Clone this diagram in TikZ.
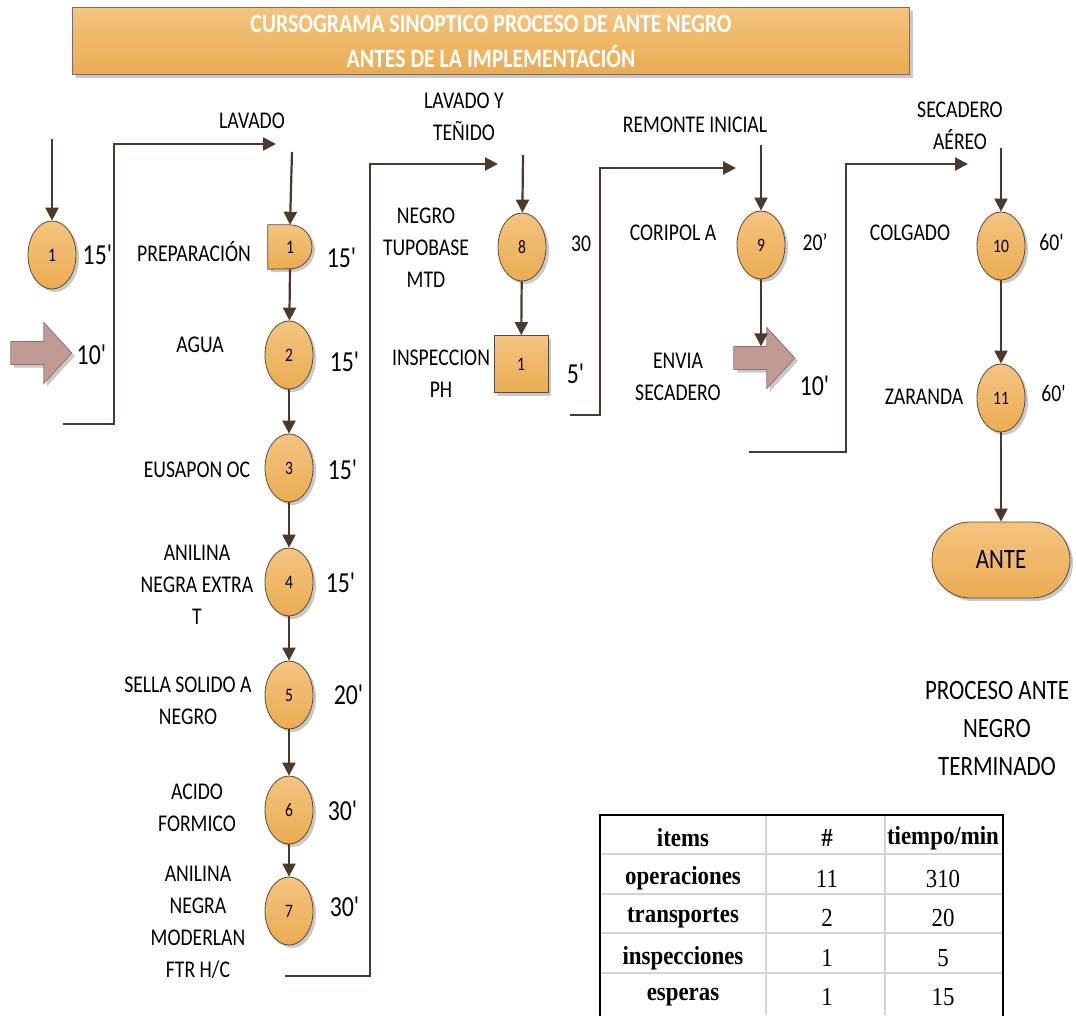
\documentclass[tikz,border=0pt]{standalone}
\usepackage{fontspec}
\setmainfont{Carlito}[FakeStretch=0.82]
\newfontfamily\tabfont{Liberation Serif}[FakeStretch=0.88]
\usepackage{tikz}
\usetikzlibrary{arrows.meta,shapes.geometric,shapes.misc,shadows}

\definecolor{linea}{RGB}{75,58,44}
\definecolor{borde}{RGB}{90,74,58}
\definecolor{naranjaA}{RGB}{244,196,128}
\definecolor{naranjaB}{RGB}{235,172,82}
\definecolor{rosa}{RGB}{193,155,147}
\definecolor{rosaborde}{RGB}{140,116,112}
\definecolor{rejilla}{RGB}{212,212,212}

\newcommand{\ap}{\textquotesingle}
% flecha de transporte, dibujada desde el borde izquierdo del nodo
\newcommand{\flecha}[1]{%
  \filldraw[transp] (#1.west) ++(0,-11.5) -- ++(33,0) -- ++(0,-19) -- ++(28,30.5)
    -- ++(-28,30.5) -- ++(0,-19) -- ++(-33,0) -- cycle;}

\begin{document}
\begin{tikzpicture}[x=1pt,y=-1pt,
  sombra/.style={drop shadow={shadow xshift=3pt,shadow yshift=-3pt,opacity=0.3,fill=black!70}},
  flujo/.style={draw=linea,line width=2.2pt,-{Triangle[length=13pt,width=13pt]}},
  op/.style={ellipse,draw=borde,line width=0.8pt,top color=naranjaA,bottom color=naranjaB,
    minimum width=48pt,minimum height=68pt,inner sep=0pt,font=\fontsize{19}{19}\selectfont,sombra},
  insp/.style={rectangle,draw=borde,line width=0.8pt,top color=naranjaA,bottom color=naranjaB,
    minimum width=54pt,minimum height=57pt,inner sep=0pt,font=\fontsize{19}{19}\selectfont,sombra},
  dly/.style={rectangle,minimum size=44pt,inner sep=0pt,font=\fontsize{19}{19}\selectfont},
  trn/.style={rectangle,minimum width=61pt,minimum height=23pt,inner sep=0pt},
  transp/.style={fill=rosa,draw=rosaborde,line width=0.8pt,sombra},
  lbl/.style={align=center,inner sep=0pt,font=\fontsize{24}{32}\selectfont},
  tbig/.style={inner sep=0pt,font=\fontsize{29}{32}\selectfont},
  tabb/.style={inner sep=0pt,font=\tabfont\bfseries\fontsize{26}{26}\selectfont},
  tabn/.style={inner sep=0pt,font=\tabfont\fontsize{26}{26}\selectfont}]
  \useasboundingbox (0,0) rectangle (1076,1015);

  % titulo
  \node[rectangle,draw=borde!80,line width=1pt,top color=naranjaA,bottom color=naranjaB,
    minimum width=837pt,minimum height=67pt,text=white,align=center,sombra,
    font=\bfseries\fontsize{26.5}{35}\selectfont] (tit) at (491,41)
    {CURSOGRAMA SINOPTICO PROCESO DE ANTE NEGRO\\ANTES DE LA IMPLEMENTACIÓN};

  % entrada
  \coordinate (e1in) at (52,139);
  \node[op] (e1) at (52,255) {1};
  \draw[flujo] (e1in) -- (e1);
  \node[tbig] (te1) at (98,255) {15\ap};
  \node[trn] (tr1) at (41.5,353) {};
  \flecha{tr1}
  \node[tbig] (ttr1) at (92,355) {10\ap};
  \coordinate (c1s) at (63,424);
  \coordinate (c1e) at (276,144);
  \draw[flujo] (c1s) -- ++(51,0) |- (c1e);

  % lavado
  \node[lbl] (lav) at (252,121) {LAVADO};
  \coordinate (d1in) at (292,152);
  \node[dly] (d1) at (290,247) {1};
  \shade[top color=naranjaA,bottom color=naranjaB,draw=borde,line width=0.8pt,sombra]
    (d1.north west) -- (d1.north) arc[start angle=90,end angle=-90,radius=22pt]
    -- (d1.south west) -- cycle;
  \node[dly] at (d1) {1};
  \draw[flujo] (d1in) -- (d1.north);
  \node[lbl] (l1) at (194,252) {PREPARACIÓN};
  \node[tbig] (t1) at (342,258) {15\ap};

  \node[op] (o2) at (289,355) {2};
  \node[op] (o3) at (289,468) {3};
  \node[op] (o4) at (289,582) {4};
  \node[op] (o5) at (289,695) {5};
  \node[op] (o6) at (289,810) {6};
  \node[op] (o7) at (289,911) {7};
  \draw[flujo] (d1.south) -- (o2);
  \draw[flujo] (o2) -- (o3);
  \draw[flujo] (o3) -- (o4);
  \draw[flujo] (o4) -- (o5);
  \draw[flujo] (o5) -- (o6);
  \draw[flujo] (o6) -- (o7);

  \node[lbl] (l2) at (200,345) {AGUA};
  \node[tbig] (t2) at (345,362) {15\ap};
  \node[lbl] (l3) at (197,470) {EUSAPON OC};
  \node[tbig] (t3) at (343,470) {15\ap};
  \node[lbl] (l4) at (197,585) {ANILINA\\NEGRA EXTRA\\T};
  \node[tbig] (t4) at (341,583) {15\ap};
  \node[lbl] (l5) at (188,701) {SELLA SOLIDO A\\NEGRO};
  \node[tbig] (t5) at (349,695) {20\ap};
  \node[lbl] (l6) at (197,808) {ACIDO\\FORMICO};
  \node[tbig] (t6) at (343,811) {30\ap};
  \node[lbl] (l7) at (198,922) {ANILINA\\NEGRA\\MODERLAN\\FTR H/C};
  \node[tbig] (t7) at (345,907) {30\ap};

  \coordinate (c2s) at (285,976);
  \coordinate (c2e) at (498,164);
  \draw[flujo] (c2s) -- ++(85,0) |- (c2e);

  % lavado y tenido
  \node[lbl] (lavt) at (464,117) {LAVADO Y\\TEÑIDO};
  \coordinate (o8in) at (523,155);
  \node[op] (o8) at (522,247) {8};
  \draw[flujo] (o8in) -- (o8);
  \node[lbl] (l8) at (426,248) {NEGRO\\TUPOBASE\\MTD};
  \node[lbl] (t8) at (581,244) {30};
  \node[insp] (i1) at (521,364) {1};
  \draw[flujo] (o8) -- (i1);
  \node[lbl] (li1) at (441,374) {INSPECCION\\PH};
  \node[tbig] (ti1) at (576,374) {5\ap};

  \coordinate (c3s) at (570,415);
  \coordinate (c3e) at (736,168);
  \draw[flujo] (c3s) -- ++(30,0) |- (c3e);

  % remonte inicial
  \node[lbl] (rem) at (695,125) {REMONTE INICIAL};
  \coordinate (o9in) at (761,145);
  \node[op] (o9) at (761,245) {9};
  \draw[flujo] (o9in) -- (o9);
  \node[lbl] (l9) at (673,233) {CORIPOL A};
  \node[lbl] (t9) at (815,242) {20’};
  \node[trn] (tr2) at (764.5,358) {};
  \flecha{tr2}
  \draw[flujo] (o9) -- (o9|-tr2.north);
  \node[lbl] (ltr2) at (678,377) {ENVIA\\SECADERO};
  \node[tbig] (ttr2) at (815,386) {10\ap};

  \coordinate (c4s) at (749,452);
  \coordinate (c4e) at (968,164);
  \draw[flujo] (c4s) -- ++(97,0) |- (c4e);

  % secadero
  \node[lbl] (sec) at (960,126) {SECADERO\\AÉREO};
  \coordinate (o10in) at (1001,148);
  \node[op] (o10) at (1001,246) {10};
  \draw[flujo] (o10in) -- (o10);
  \node[lbl] (l10) at (910,233) {COLGADO};
  \node[lbl] (t10) at (1052,242) {60\ap};
  \node[op] (o11) at (1001,398) {11};
  \draw[flujo] (o10) -- (o11);
  \node[lbl] (l11) at (924,397) {ZARANDA};
  \node[lbl] (t11) at (1054,393) {60\ap};
  \node[rounded rectangle,draw=borde,line width=0.8pt,top color=naranjaA,bottom color=naranjaB,
    minimum width=138pt,minimum height=76pt,inner sep=0pt,sombra,
    font=\fontsize{28}{28}\selectfont] (fin) at (1001,560) {ANTE};
  \draw[flujo] (o11) -- (fin);

  \node[align=center,inner sep=0pt,font=\fontsize{28}{38}\selectfont] (res) at (997,728)
    {PROCESO ANTE\\NEGRO\\TERMINADO};

  % tabla resumen
  \foreach \y in {854,894,933,973}
    \draw[rejilla,line width=1.5pt] (601,\y) -- (1002,\y);
  \foreach \x in {766,885}
    \draw[rejilla,line width=1.5pt] (\x,816) -- (\x,1015);
  \draw[black,line width=2.5pt] (600,1016) -- (600,815) -- (1003,815) -- (1003,1016);
  \node[tabb] (h1) at (683,838) {items};
  \node[tabb] (h2) at (827,838) {\#};
  \node[tabb] (h3) at (943,838) {tiempo/min};
  \foreach \nom/\num/\tie [count=\i] in {operaciones/11/310,transportes/2/20,inspecciones/1/5,esperas/1/15} {
    \node[tabb] (r\i) at (683,839+39.6*\i) {\nom};
    \node[tabn] (n\i) at (827,839+39.6*\i) {\num};
    \node[tabn] (m\i) at (943,839+39.6*\i) {\tie};
  }
\end{tikzpicture}
\end{document}
